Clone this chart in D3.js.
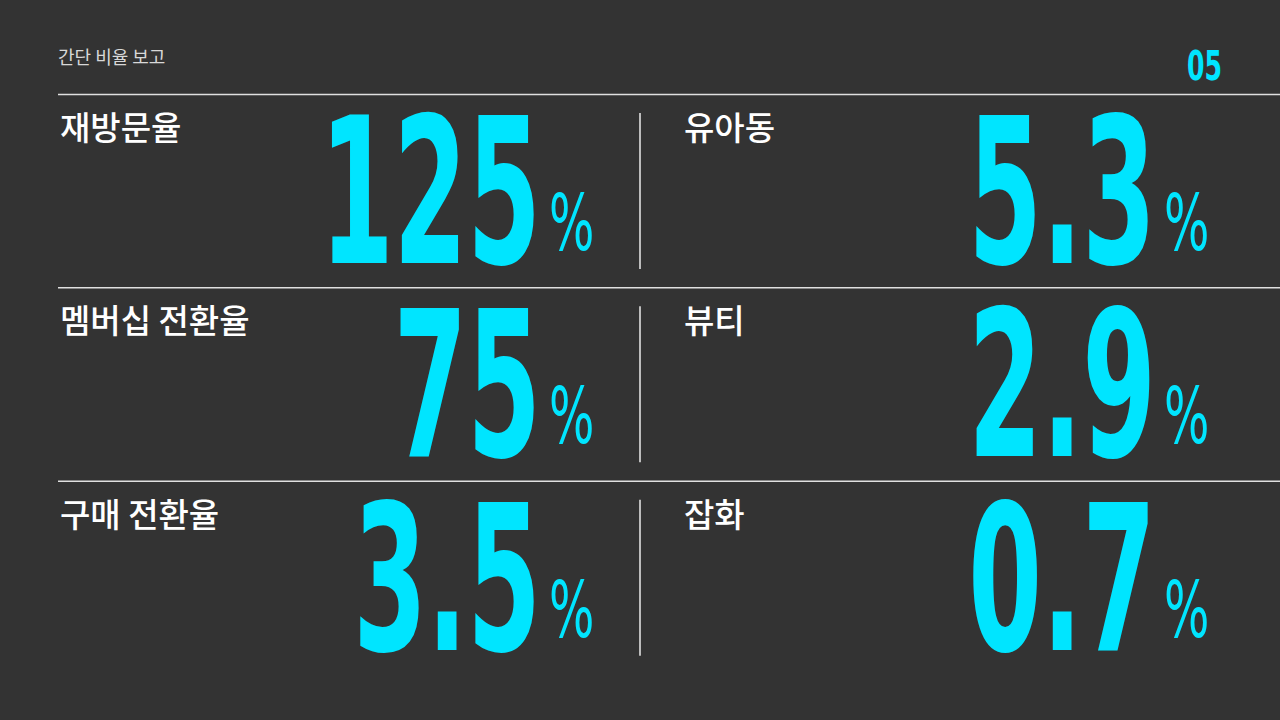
<!DOCTYPE html>
<html><head><meta charset="utf-8">
<script src="https://cdn.jsdelivr.net/npm/d3@7"></script>
<style>html,body{margin:0;background:#333333;}svg{display:block;}</style>
</head><body><svg id="c" width="1280" height="720"></svg>
<script>
const title = "간단 비율 보고";
const pageNo = "05";
const leftLabels = ["재방문율", "멤버십 전환율", "구매 전환율"];
const leftValues = ["125", "75", "3.5"];
const rightLabels = ["유아동", "뷰티", "잡화"];
const rightValues = ["5.3", "2.9", "0.7"];
const unit = "%";

const svg = d3.select("#c");
const cyan = "#00e5ff";
const rowY = d3.scaleBand().domain([0,1,2]).range([94, 674]).paddingInner(0);
const numFont = "'Liberation Sans Narrow','DejaVu Sans Condensed',sans-serif";
const lblFont = "'Noto Sans CJK KR','Noto Sans',sans-serif";

svg.append("text").attr("x",58).attr("y",64).attr("fill","#d8d8d8")
  .attr("font-family",lblFont).attr("font-size",18).text(title);
svg.append("text").attr("transform","translate(1222,80) scale(0.7,1)").attr("text-anchor","end")
  .attr("fill",cyan).attr("font-family",numFont).attr("font-weight","bold").attr("font-size",40).text(pageNo);

const cols = [{labels:leftLabels, values:leftValues, lx:60, nx:541, px:549},
              {labels:rightLabels, values:rightValues, lx:684, nx:1156, px:1164}];
[0,1,2].forEach(i=>{
  const y0 = rowY(i);
  svg.append("line").attr("x1",58).attr("x2",1280).attr("y1",y0+0.5).attr("y2",y0+0.5)
    .attr("stroke","#e0e0e0").attr("stroke-width",1.5);
  svg.append("line").attr("x1",640).attr("x2",640).attr("y1",y0+19).attr("y2",y0+175)
    .attr("stroke","#bdbdbd").attr("stroke-width",2);
  cols.forEach(c=>{
    svg.append("text").attr("x",c.lx).attr("y",y0+46).attr("fill","#ffffff")
      .attr("font-family",lblFont).attr("font-weight",500).attr("font-size",33).text(c.labels[i]);
    svg.append("text").attr("transform",`translate(${c.nx},${y0+169}) scale(0.58,1)`)
      .attr("text-anchor","end").attr("fill",cyan).attr("font-family",numFont)
      .attr("font-weight","bold").attr("font-size",203).text(c.values[i]);
    svg.append("text").attr("transform",`translate(${c.px},${y0+156}) scale(0.68,1)`)
      .attr("fill",cyan).attr("font-family",numFont).attr("font-size",78).text(unit);
  });
});
</script></body></html>
